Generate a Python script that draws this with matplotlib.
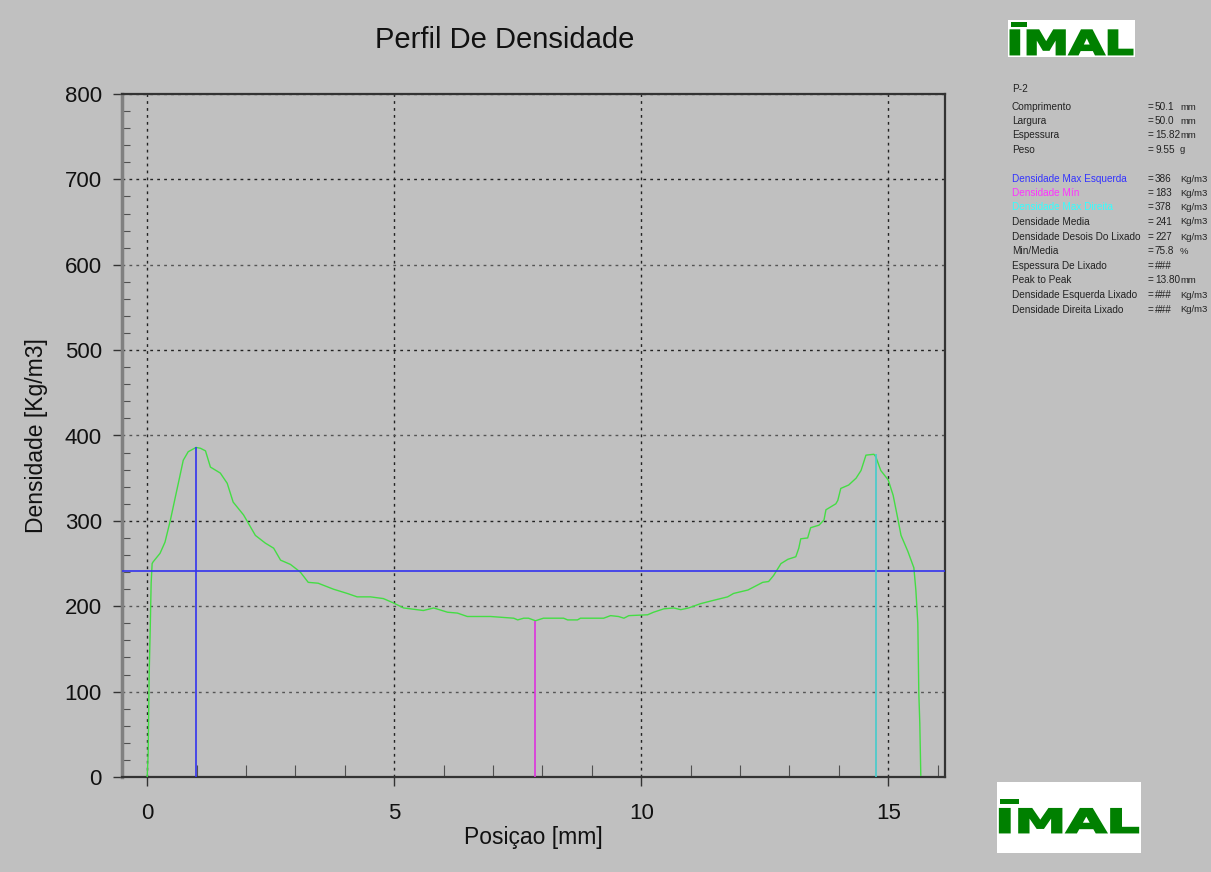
import matplotlib.pyplot as plt
from matplotlib.ticker import MultipleLocator
from matplotlib.patches import Rectangle, PathPatch
from matplotlib.textpath import TextPath
from matplotlib.font_manager import FontProperties
from matplotlib.transforms import Affine2D

# perfil de densidade (posicao mm, densidade kg/m3)
posicao = [0.00, 0.02, 0.04, 0.06, 0.08, 0.10, 0.12, 0.26, 0.36, 0.47,
           0.57, 0.63, 0.73, 0.83, 0.99, 1.08, 1.18, 1.28, 1.48, 1.62,
           1.74, 1.95, 2.19, 2.39, 2.56, 2.70, 2.90, 3.10, 3.26, 3.46,
           3.77, 4.05, 4.25, 4.52, 4.78, 4.98, 5.19, 5.59, 5.80, 6.08,
           6.28, 6.48, 6.95, 7.42, 7.50, 7.62, 7.72, 7.86, 8.02, 8.43,
           8.51, 8.71, 8.77, 9.24, 9.38, 9.54, 9.65, 9.75, 10.13, 10.25,
           10.46, 10.66, 10.80, 10.96, 11.20, 11.47, 11.75, 11.87, 12.16, 12.46,
           12.58, 12.68, 12.83, 12.97, 13.13, 13.19, 13.23, 13.37, 13.43, 13.60,
           13.70, 13.74, 13.94, 13.98, 14.04, 14.20, 14.35, 14.45, 14.55, 14.71,
           14.75, 14.85, 15.00, 15.10, 15.20, 15.26, 15.40, 15.52, 15.56, 15.60,
           15.62, 15.64, 15.66]
densidade = [0, 28, 120, 170, 227, 250, 252, 262, 275, 301,
             328, 344, 371, 381, 386, 385, 382, 363, 356, 344,
             322, 307, 283, 274, 268, 254, 249, 240, 228, 227,
             220, 215, 211, 211, 209, 204, 198, 195, 198, 193,
             192, 188, 188, 186, 184, 186, 186, 183, 186, 186,
             184, 184, 186, 186, 189, 188, 186, 189, 190, 193,
             197, 198, 196, 198, 203, 207, 211, 215, 219, 228,
             229, 236, 250, 255, 258, 268, 279, 280, 292, 295,
             301, 313, 320, 324, 338, 342, 350, 359, 377, 378,
             375, 359, 348, 330, 301, 283, 264, 245, 219, 180,
             98, 63, 2]

# marcadores
pos_max_esq, dens_max_esq = 0.98, 386
pos_min, dens_min = 7.86, 183
pos_max_dir, dens_max_dir = 14.76, 378
dens_media = 241

info_labels = ['P-2', 'Comprimento', 'Largura', 'Espessura', 'Peso', '',
               'Densidade Max Esquerda', 'Densidade Mín', 'Densidade Max Direita',
               'Densidade Media', 'Densidade Desois Do Lixado', 'Min/Media',
               'Espessura De Lixado', 'Peak to Peak', 'Densidade Esquerda Lixado',
               'Densidade Direita Lixado']
info_values = ['', '50.1', '50.0', '15.82', '9.55', '',
               '386', '183', '378', '241', '227', '75.8', '###', '13.80', '###', '###']
info_units = ['', 'mm', 'mm', 'mm', 'g', '',
              'Kg/m3', 'Kg/m3', 'Kg/m3', 'Kg/m3', 'Kg/m3', '%', '', 'mm', 'Kg/m3', 'Kg/m3']
info_colors = ['#222222'] * 6 + ['#3333ff', '#ff33ff', '#33ffff'] + ['#222222'] * 7
info_y = [89, 107, 121, 135, 150, 0, 179, 193, 207, 222, 237, 251, 266, 280, 295, 310]

plt.rcParams['font.family'] = ['Liberation Sans', 'DejaVu Sans']

W, H = 1211, 872
bg = '#c0c0c0'
fig = plt.figure(figsize=(W / 100, H / 100), dpi=100, facecolor=bg)
ax = fig.add_axes([122 / W, 1 - 777 / H, (945 - 122) / W, (777 - 94) / H], facecolor=bg)

# grelha
for gx in [0, 5, 10, 15]:
    ax.axvline(gx, color='#222222', lw=1.0, ls=(0, (2, 3)), zorder=1)
for gy in range(100, 801, 100):
    c = '#222222' if gy in (300, 500, 700) else '#555555'
    ax.axhline(gy, color=c, lw=1.0, ls=(0, (2, 3)), zorder=1)

ax.plot(posicao, densidade, color='#44dd44', lw=1.0, zorder=3)
ax.axhline(dens_media, color='#3333ee', lw=1.2, zorder=4)
ax.vlines(pos_max_esq, 0, dens_max_esq, color='#3333ee', lw=1.2, zorder=4)
ax.vlines(pos_min, 0, dens_min, color='#dd33dd', lw=1.2, zorder=4)
ax.vlines(pos_max_dir, 0, dens_max_dir, color='#44cccc', lw=1.2, zorder=4)

ax.set_xlim(-0.51, 16.15)
ax.set_ylim(0, 800)
ax.set_xticks([0, 5, 10, 15])
ax.set_yticks(range(0, 801, 100))
ax.xaxis.set_minor_locator(MultipleLocator(1))
ax.yaxis.set_minor_locator(MultipleLocator(20))
ax.tick_params(which='major', length=6.5, width=1, color='#333333',
               labelsize=16, labelcolor='#111111')
ax.tick_params(axis='x', which='major', pad=12)
ax.tick_params(axis='y', which='major', pad=8)
ax.tick_params(which='minor', direction='in', length=6, width=0.8, color='#505050')
ax.tick_params(axis='x', which='minor', length=9)

for s in ['top', 'right', 'bottom']:
    ax.spines[s].set_color('#333333')
    ax.spines[s].set_linewidth(1.6)
ax.spines['left'].set_color('#808080')
ax.spines['left'].set_linewidth(2.5)

ax.set_xlabel('Posiçao [mm]', fontsize=16.5, color='#111111', labelpad=2)
ax.set_ylabel('Densidade [Kg/m3]', fontsize=16.5, color='#111111', labelpad=12)
fig.text(505 / W, 1 - 40 / H, 'Perfil De Densidade', fontsize=21,
         ha='center', va='center', color='#111111')

# painel de informacao
for lab, val, uni, col, py in zip(info_labels, info_values, info_units, info_colors, info_y):
    if not lab:
        continue
    fig.text(1012 / W, 1 - py / H, lab, fontsize=7.2, color=col, va='center')
    if lab != 'P-2':
        fig.text(1148 / W, 1 - py / H, '=', fontsize=7.2, color='#222222', va='center')
        fig.text(1155 / W, 1 - py / H, val, fontsize=7.2, color='#222222', va='center')
        fig.text(1180 / W, 1 - py / H, uni, fontsize=6.8, color='#222222', va='center')


def logo(x0, y0, x1, y1, box, bar):
    lax = fig.add_axes([x0 / W, 1 - y1 / H, (x1 - x0) / W, (y1 - y0) / H], facecolor='white')
    lax.set_xlim(0, 1)
    lax.set_ylim(0, 1)
    lax.set_xticks([])
    lax.set_yticks([])
    for s in lax.spines.values():
        s.set_visible(False)
    tp = TextPath((0, 0), 'IMAL', size=1,
                  prop=FontProperties(family='DejaVu Sans', weight='bold'))
    ext = tp.get_extents()
    bx0, by0, bx1, by1 = box
    tr = (Affine2D().translate(-ext.x0, -ext.y0)
          .scale((bx1 - bx0) / ext.width, (by1 - by0) / ext.height)
          .translate(bx0, by0))
    lax.add_patch(PathPatch(tr.transform_path(tp), facecolor='#008000',
                            edgecolor='#008000', lw=1.5))
    lax.add_patch(Rectangle((bx0, bar[0]), 0.13, bar[1] - bar[0], color='#008000', lw=0))


logo(1008, 20, 1135, 57, (0.02, 0.07, 0.98, 0.72), (0.81, 0.95))
logo(997, 782, 1141, 853, (0.02, 0.29, 0.98, 0.62), (0.69, 0.76))

fig.savefig('out.png', dpi=100, facecolor=bg)
